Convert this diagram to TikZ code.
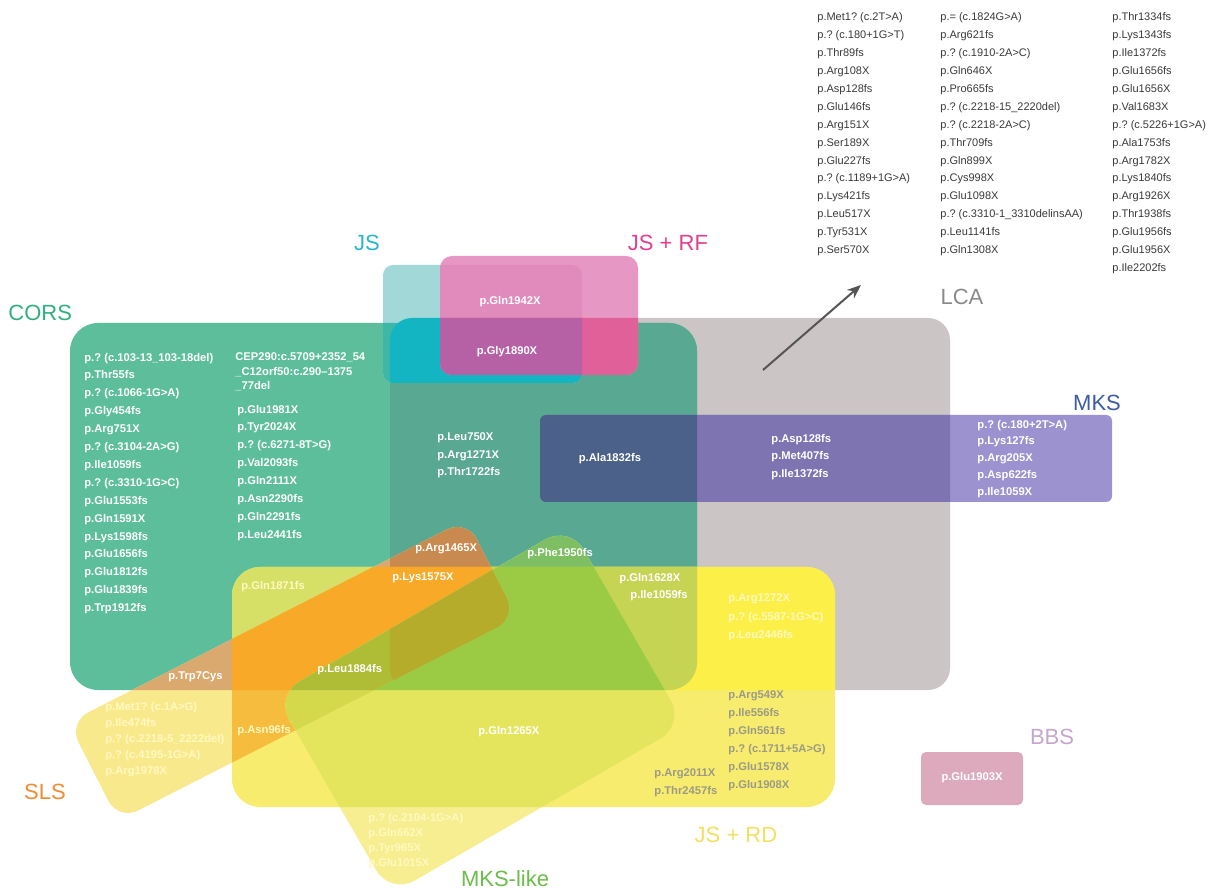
\documentclass[tikz,border=0pt]{standalone}
\usepackage{fontspec}
\setmainfont{Liberation Sans}
\usetikzlibrary{arrows.meta}
\frenchspacing
% region colours
\definecolor{cLCA}{HTML}{CBC6C5}
\definecolor{cCORS}{HTML}{5DBE9B}
\definecolor{cCL}{HTML}{59A891}
\definecolor{cJS}{HTML}{A3D8D9}
\definecolor{cJSC}{HTML}{3DB8A8}
\definecolor{cJSL}{HTML}{14B5C2}
\definecolor{cRF}{HTML}{E797C4}
\definecolor{cRFJS}{HTML}{E08BBB}
\definecolor{cRFL}{HTML}{E0609A}
\definecolor{cRFJSL}{HTML}{B660A6}
\definecolor{cMKS}{HTML}{9C92D0}
\definecolor{cMKSL}{HTML}{7E74B2}
\definecolor{cMKSCL}{HTML}{4C6189}
\definecolor{cF}{HTML}{F7EC6E}
\definecolor{cFL}{HTML}{FCEF48}
\definecolor{cFC}{HTML}{D6E066}
\definecolor{cFCL}{HTML}{C5D453}
\definecolor{cG}{HTML}{F8E98C}
\definecolor{cGC}{HTML}{D9A970}
\definecolor{cGCL}{HTML}{C88A4F}
\definecolor{cGF}{HTML}{F6BC3D}
\definecolor{cGFC}{HTML}{F8A927}
\definecolor{cH}{HTML}{F6EE90}
\definecolor{cHCL}{HTML}{7DBF62}
\definecolor{cHF}{HTML}{E4E55D}
\definecolor{cHFC}{HTML}{9BCA45}
\definecolor{cHGF}{HTML}{D4D84B}
\definecolor{cHGC}{HTML}{AEBC36}
\definecolor{cHGCL}{HTML}{B5AC2C}
\definecolor{cBBS}{HTML}{DDAABD}
% text colours
\definecolor{tCORS}{HTML}{30B07F}
\definecolor{tJS}{HTML}{2AB5CB}
\definecolor{tRF}{HTML}{E0408F}
\definecolor{tLCA}{HTML}{8A8A8A}
\definecolor{tMKS}{HTML}{3C5CA8}
\definecolor{tBBS}{HTML}{C6A6CC}
\definecolor{tSLS}{HTML}{F08C33}
\definecolor{tRD}{HTML}{F3E063}
\definecolor{tMKSl}{HTML}{6CBD4B}
\definecolor{tList}{HTML}{3A3A3A}
\definecolor{tGray}{HTML}{9C9A86}
\definecolor{tFaint}{HTML}{FFF9C0}
\definecolor{cArrow}{HTML}{555555}
% shapes (pixel coordinates, y downwards)
\def\pLCA{[rounded corners=11pt] (390,318) rectangle (950,690)}
\def\pCORS{[rounded corners=14pt] (70,323) rectangle (697,690)}
\def\pJS{[rounded corners=5pt] (383,265) rectangle (582,383)}
\def\pRF{[rounded corners=6pt] (440,256) rectangle (638,375)}
\def\pMKS{[rounded corners=3pt] (540,415) rectangle (1112,502)}
\def\pF{[rounded corners=14pt] (232,567) rectangle (835,807)}
\def\pG{[rounded corners=11pt] (68.4,722.5) -- (466.6,519.5) -- (516.6,617.5) -- (118.4,820.5) -- cycle}
\def\pH{[rounded corners=14pt] (569.7,525.4) -- (684.7,724.6) -- (390.3,894.6) -- (275.3,695.4) -- cycle}
\tikzset{
  setlabel/.style={font=\fontsize{11}{13}\selectfont, inner sep=0},
  blist/.style={font=\fontsize{5.5}{8.95}\selectfont, text=tList, align=left, anchor=north west, inner sep=0},
  wlist/.style={font=\bfseries\fontsize{5.6}{8.95}\selectfont, text=white, align=left, anchor=north west, inner sep=0},
  wlab/.style={font=\bfseries\fontsize{5.6}{8.95}\selectfont, text=white, anchor=west, inner sep=0},
}
\begin{document}
\begin{tikzpicture}[x=0.5pt,y=-0.5pt]
\useasboundingbox (0,0) rectangle (1215,892);
\fill[white] (0,0) rectangle (1215,892);
% LCA and CORS
\fill[cLCA] \pLCA;
\fill[cCORS] \pCORS;
\begin{scope}\clip \pCORS; \fill[cCL] \pLCA; \end{scope}
% JS
\fill[cJS] \pJS;
\begin{scope}\clip \pJS; \fill[cJSC] \pCORS; \fill[cJSL] \pLCA; \end{scope}
% JS + RF
\fill[cRF] \pRF;
\begin{scope}\clip \pRF;
  \fill[cRFJS] \pJS;
  \fill[cRFL] \pLCA;
  \begin{scope}\clip \pJS; \fill[cRFJSL] \pLCA; \end{scope}
\end{scope}
% MKS
\fill[cMKS] \pMKS;
\begin{scope}\clip \pMKS;
  \fill[cMKSL] \pLCA;
  \begin{scope}\clip \pCORS; \fill[cMKSCL] \pLCA; \end{scope}
\end{scope}
% JS + RD
\fill[cF] \pF;
\begin{scope}\clip \pF;
  \fill[cFL] \pLCA;
  \fill[cFC] \pCORS;
  \begin{scope}\clip \pCORS; \fill[cFCL] \pLCA; \end{scope}
\end{scope}
% SLS
\fill[cG] \pG;
\begin{scope}\clip \pG;
  \fill[cGC] \pCORS;
  \begin{scope}\clip \pCORS; \fill[cGCL] \pLCA; \end{scope}
  \fill[cGF] \pF;
  \begin{scope}\clip \pF; \fill[cGFC] \pCORS; \end{scope}
\end{scope}
% MKS-like
\fill[cH] \pH;
\begin{scope}\clip \pH;
  \begin{scope}\clip \pCORS; \fill[cHCL] \pLCA; \end{scope}
  \fill[cHF] \pF;
  \begin{scope}\clip \pF; \fill[cHFC] \pCORS; \end{scope}
  \begin{scope}\clip \pG;
    \fill[cHGF] \pF;
    \fill[cHGC] \pCORS;
    \begin{scope}\clip \pCORS; \fill[cHGCL] \pLCA; \end{scope}
  \end{scope}
\end{scope}
% BBS
\fill[cBBS, rounded corners=2.5pt] (921,752) rectangle (1023,805);

% set labels
\node[setlabel, text=tCORS, anchor=west] (tcors) at (8,313) {CORS};
\node[setlabel, text=tJS] (tjs) at (367,243) {JS};
\node[setlabel, text=tRF] (trf) at (668,243) {JS + RF};
\node[setlabel, text=tLCA] (tlca) at (962,297) {LCA};
\node[setlabel, text=tMKS] (tmks) at (1097,403) {MKS};
\node[setlabel, text=tBBS] (tbbs) at (1052,737) {BBS};
\node[setlabel, text=tSLS] (tsls) at (45,792) {SLS};
\node[setlabel, text=tRD] (trd) at (736,835) {JS + RD};
\node[setlabel, text=tMKSl] (tmksl) at (505,879) {MKS-like};

% arrow to LCA list
\coordinate (arrS) at (763,370);
\coordinate (arrE) at (861,285);
\draw[cArrow, line width=1pt, -{Stealth[length=7pt,width=5.5pt]}] (arrS) -- (arrE);

% LCA lists
\node[blist] (lcaA) at (817,12.5) {p.Met1? (c.2T>A)\\p.? (c.180+1G>T)\\p.Thr89fs\\p.Arg108X\\p.Asp128fs\\p.Glu146fs\\p.Arg151X\\p.Ser189X\\p.Glu227fs\\p.? (c.1189+1G>A)\\p.Lys421fs\\p.Leu517X\\p.Tyr531X\\p.Ser570X};
\node[blist] (lcaB) at (940,12.5) {p.= (c.1824G>A)\\p.Arg621fs\\p.? (c.1910-2A>C)\\p.Gln646X\\p.Pro665fs\\p.? (c.2218-15\_2220del)\\p.? (c.2218-2A>C)\\p.Thr709fs\\p.Gln899X\\p.Cys998X\\p.Glu1098X\\p.? (c.3310-1\_3310delinsAA)\\p.Leu1141fs\\p.Gln1308X};
\node[blist] (lcaC) at (1112,12.5) {p.Thr1334fs\\p.Lys1343fs\\p.Ile1372fs\\p.Glu1656fs\\p.Glu1656X\\p.Val1683X\\p.? (c.5226+1G>A)\\p.Ala1753fs\\p.Arg1782X\\p.Lys1840fs\\p.Arg1926X\\p.Thr1938fs\\p.Glu1956fs\\p.Glu1956X\\p.Ile2202fs};

% CORS lists
\node[wlist] (corsA) at (84,352.5) {p.? (c.103-13\_103-18del)\\p.Thr55fs\\p.? (c.1066-1G>A)\\p.Gly454fs\\p.Arg751X\\p.? (c.3104-2A>G)\\p.Ile1059fs\\p.? (c.3310-1G>C)\\p.Glu1553fs\\p.Gln1591X\\p.Lys1598fs\\p.Glu1656fs\\p.Glu1812fs\\p.Glu1839fs\\p.Trp1912fs};
\node[wlist, font=\bfseries\fontsize{5.6}{7.3}\selectfont] (corsB) at (235,352.5) {CEP290:c.5709+2352\_54\\\_C12orf50:c.290–1375\\\_77del};
\node[wlist] (corsC) at (237,404.5) {p.Glu1981X\\p.Tyr2024X\\p.? (c.6271-8T>G)\\p.Val2093fs\\p.Gln2111X\\p.Asn2290fs\\p.Gln2291fs\\p.Leu2441fs};
\node[wlist, font=\bfseries\fontsize{5.6}{8.75}\selectfont] (midA) at (437,432.5) {p.Leu750X\\p.Arg1271X\\p.Thr1722fs};

% JS + RF
\node[wlab, anchor=center] (rf1) at (510,302) {p.Gln1942X};
\node[wlab, anchor=center] (rf2) at (507,352) {p.Gly1890X};

% MKS
\node[wlab, anchor=center] (mksA) at (610,459) {p.Ala1832fs};
\node[wlist, font=\bfseries\fontsize{5.6}{8.75}\selectfont] (mksB) at (771,433.5) {p.Asp128fs\\p.Met407fs\\p.Ile1372fs};
\node[wlist, font=\bfseries\fontsize{5.6}{8.4}\selectfont] (mksC) at (977,419.5) {p.? (c.180+2T>A)\\p.Lys127fs\\p.Arg205X\\p.Asp622fs\\p.Ile1059X};

% overlap labels
\node[wlab] (l1465) at (415,549) {p.Arg1465X};
\node[wlab] (l1575) at (392,578) {p.Lys1575X};
\node[wlab] (l1950) at (527,554) {p.Phe1950fs};
\node[wlab] (l1628) at (619,579) {p.Gln1628X};
\node[wlab] (l1059) at (630,596) {p.Ile1059fs};
\node[wlab, text=tFaint] (l1871) at (241,587) {p.Gln1871fs};
\node[wlist, text=tFaint, font=\bfseries\fontsize{5.6}{9.25}\selectfont] (rdA) at (728,593.5) {p.Arg1272X\\p.? (c.5587-1G>C)\\p.Leu2446fs};
\node[wlab] (l7cys) at (168,677) {p.Trp7Cys};
\node[wlab] (l1884) at (317,670) {p.Leu1884fs};
\node[wlist, text=tFaint, font=\bfseries\fontsize{5.6}{8}\selectfont] (slsA) at (105,701.5) {p.Met1? (c.1A>G)\\p.Ile474fs\\p.? (c.2218-5\_2222del)\\p.? (c.4195-1G>A)\\p.Arg1978X};
\node[wlab, text=tFaint] (l96) at (237,731) {p.Asn96fs};
\node[wlab] (l1265) at (478,732) {p.Gln1265X};
\node[wlist, text=tGray, font=\bfseries\fontsize{5.6}{8.75}\selectfont] (rdB) at (654,768.5) {p.Arg2011X\\p.Thr2457fs};
\node[wlist, text=tGray, font=\bfseries\fontsize{5.6}{9}\selectfont] (rdC) at (728,690.5) {p.Arg549X\\p.Ile556fs\\p.Gln561fs\\p.? (c.1711+5A>G)\\p.Glu1578X\\p.Glu1908X};
\node[wlist, text=tFaint, font=\bfseries\fontsize{5.6}{7.5}\selectfont] (mkslA) at (368,812.5) {p.? (c.2104-1G>A)\\p.Gln662X\\p.Tyr965X\\p.Glu1015X};
\node[wlab, anchor=center] (bbsA) at (972,778) {p.Glu1903X};
\end{tikzpicture}
\end{document}
